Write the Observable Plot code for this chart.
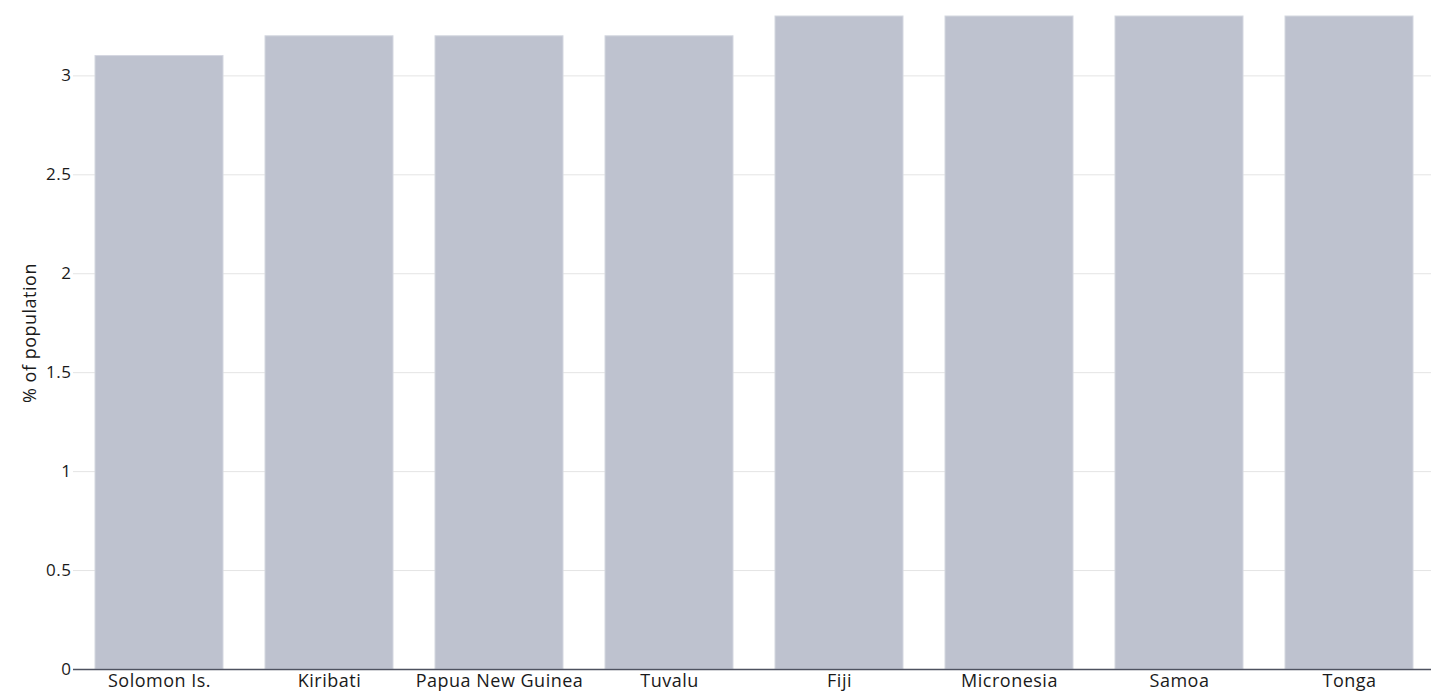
<!DOCTYPE html>
<html>
<head>
<meta charset="utf-8">
<script src="https://cdn.jsdelivr.net/npm/d3@7"></script>
<script src="https://cdn.jsdelivr.net/npm/@observablehq/plot@0.6"></script>
<style>
  html, body { margin: 0; padding: 0; background: #fff; }
  #chart { width: 1431px; height: 695px; }
  svg text { letter-spacing: 0.5px; }
</style>
</head>
<body>
<div id="chart"></div>
<script>
const countries = ["Solomon Is.", "Kiribati", "Papua New Guinea", "Tuvalu", "Fiji", "Micronesia", "Samoa", "Tonga"];
const values = [3.1, 3.2, 3.2, 3.2, 3.3, 3.3, 3.3, 3.3];
const yTicks = [0, 0.5, 1, 1.5, 2, 2.5, 3];

const data = countries.map((c, i) => ({country: c, value: values[i]}));

const chart = Plot.plot({
  width: 1431,
  height: 695,
  marginLeft: 73,
  marginRight: 0,
  marginTop: 16,
  marginBottom: 26,
  style: {fontSize: "18px", fontFamily: "'Open Sans', Lato, sans-serif", color: "#1a1a1a"},
  x: {domain: countries, range: [93, 1415], paddingInner: 0.25, paddingOuter: 0, label: null},
  y: {domain: [0, 3.3], label: null},
  marks: [
    Plot.ruleY(yTicks.filter(d => d > 0), {stroke: "#e4e4e4", strokeWidth: 1}),
    Plot.barY(data, {x: "country", y: "value", fill: "#bec2cf", stroke: "#d4d7e0", strokeWidth: 1}),
    Plot.ruleY([0], {stroke: "#4e5260", strokeWidth: 1.5}),
    Plot.axisY(yTicks, {tickSize: 0, tickPadding: 2, tickFormat: d => String(d), label: null, fontSize: 17, fill: "#1a1a1a"}),
    Plot.axisX({tickSize: 0, tickPadding: 5, label: null, fontSize: 18, fill: "#1a1a1a"}),
    Plot.text(["% of population"], {frameAnchor: "left", textAnchor: "middle", dx: -43, dy: -10, rotate: -90, fontSize: 18, fill: "#1a1a1a"})
  ]
});
document.getElementById("chart").appendChild(chart);
</script>
</body>
</html>
